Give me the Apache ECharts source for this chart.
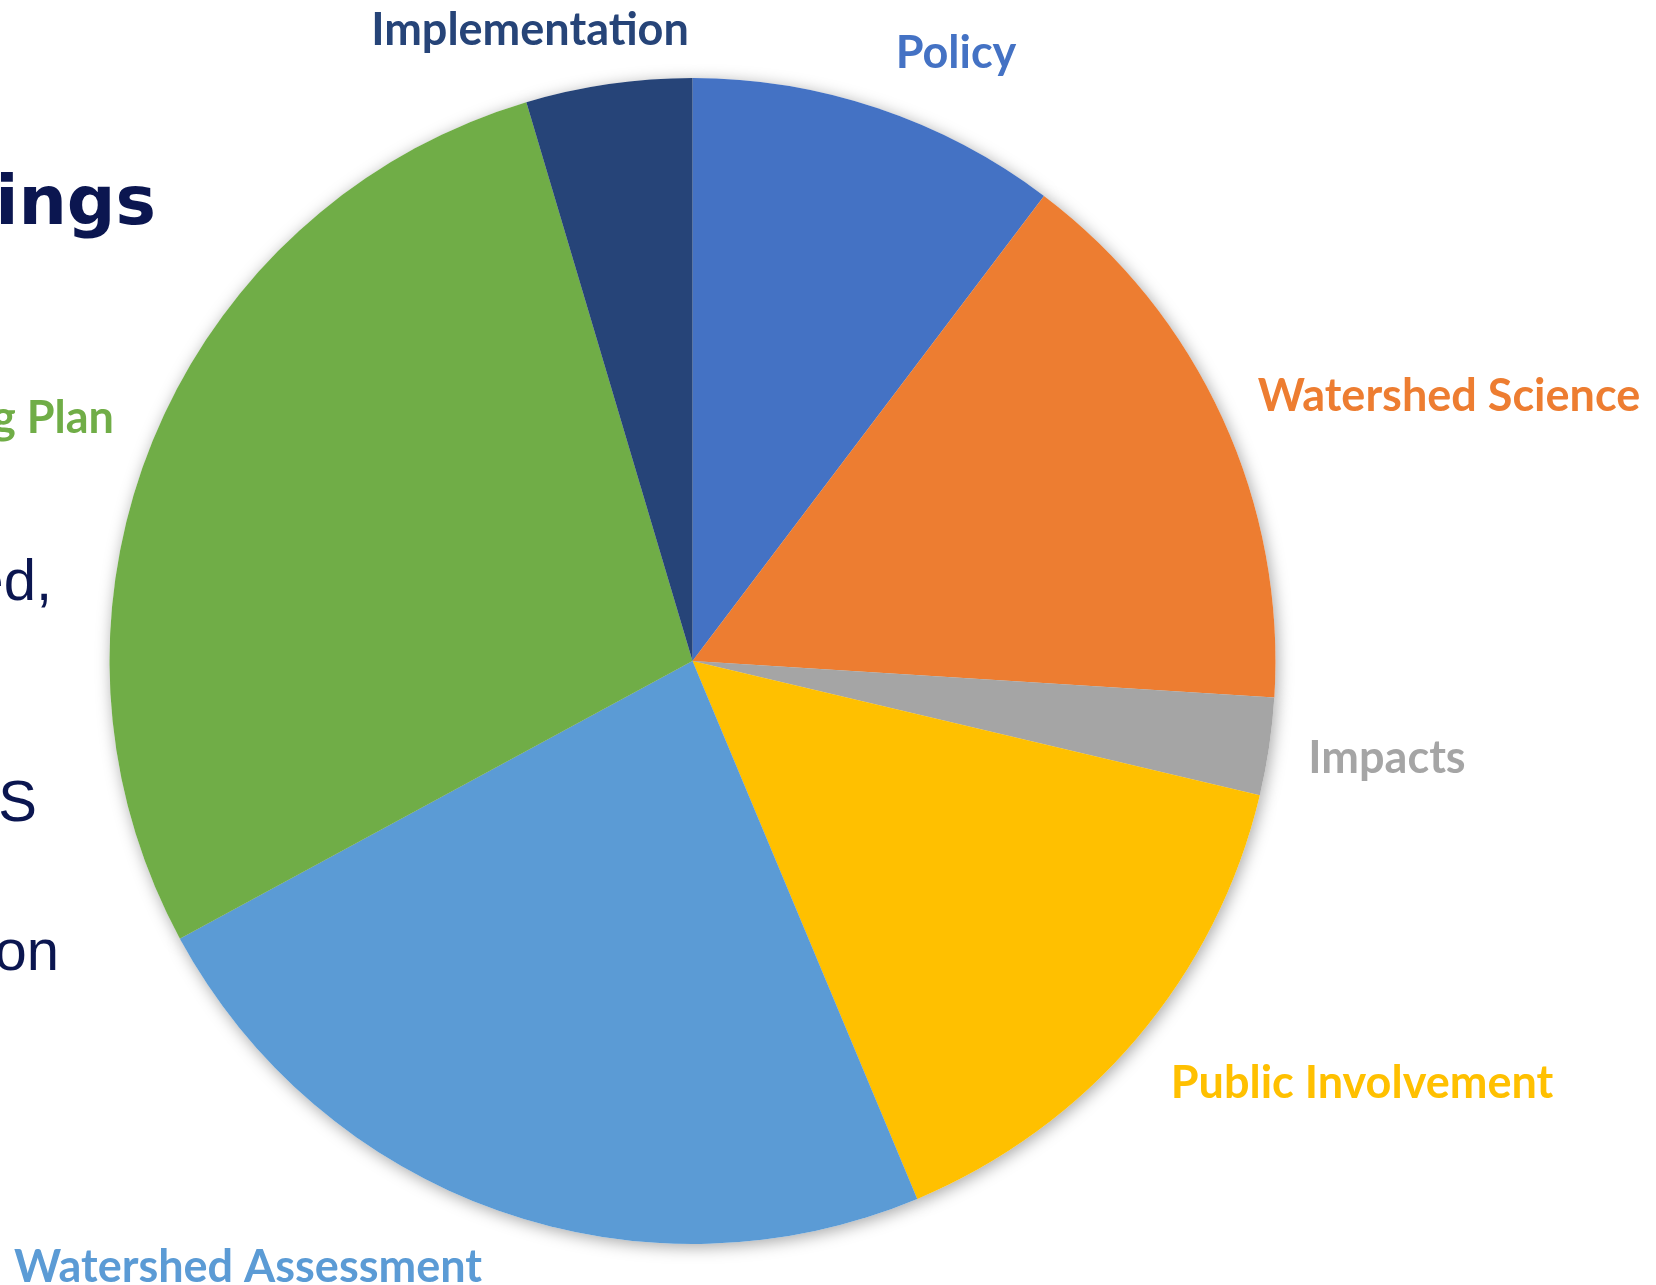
<!DOCTYPE html>
<html lang="en">
<head>
    <meta charset="UTF-8">
    <title>Topics</title>
    <script src="https://cdn.jsdelivr.net/npm/echarts@6/dist/echarts.min.js"></script>
    <style>
        html, body { margin: 0; padding: 0; background: #fff; }
    </style>
</head>
<body>
<div id="main" style="width: 1656px; height: 1285px"></div>
<script type="text/javascript">
    // slices, clockwise from 12 o'clock (share of total, %)
    var topics = ['Policy', 'Watershed Science', 'Impacts', 'Public Involvement',
        'Watershed Assessment', 'Monitoring Plan', 'Implementation'];
    var shares = [10.3, 15.7, 2.7, 15.0, 23.4, 28.3, 4.6];
    var colors = ['#4472C4', '#ED7D31', '#A5A5A5', '#FFC000', '#5B9BD5', '#70AD47', '#264478'];

    // where each label sits on the slide [x, y, align]
    var labelPos = {
        'Policy': [956, 53, 'center'],
        'Watershed Science': [1449, 396, 'center'],
        'Impacts': [1387, 758, 'center'],
        'Public Involvement': [1362, 1083, 'center'],
        'Watershed Assessment': [248, 1267, 'center'],
        'Monitoring Plan': [114, 418, 'right'],
        'Implementation': [530, 30, 'center']
    };

    var pieData = topics.map(function (name, i) {
        return { name: name, value: shares[i], itemStyle: { color: colors[i] } };
    });

    var myChart = echarts.init(document.getElementById('main'));
    var navy = '#0b1650';

    option = {
        animation: false,
        backgroundColor: '#ffffff',
        // bits of the slide text that the chart covers
        graphic: [
            { type: 'text', x: 156, y: 206, style: { text: 'ings', font: 'bold 68px "DejaVu Sans"', fill: navy, align: 'right', verticalAlign: 'middle' } },
            { type: 'text', x: 52, y: 584, style: { text: 'ed,', font: '58px "Liberation Sans"', fill: navy, align: 'right', verticalAlign: 'middle' } },
            { type: 'text', x: 37, y: 805, style: { text: 'cS', font: '58px "Liberation Sans"', fill: navy, align: 'right', verticalAlign: 'middle' } },
            { type: 'text', x: 59, y: 954, style: { text: 'on', font: '58px "Liberation Sans"', fill: navy, align: 'right', verticalAlign: 'middle' } }
        ],
        series: [
            {
                // soft shadow under the pie
                type: 'pie',
                silent: true,
                center: [692.5, 661],
                radius: 583,
                startAngle: 90,
                label: { show: false },
                labelLine: { show: false },
                itemStyle: {
                    color: '#ffffff',
                    shadowBlur: 16,
                    shadowColor: 'rgba(0,0,0,0.35)',
                    shadowOffsetX: 2,
                    shadowOffsetY: 3
                },
                data: shares.map(function (v) { return { value: v }; })
            },
            {
                name: 'Topics',
                type: 'pie',
                center: [692.5, 661],
                radius: 583,
                startAngle: 90,
                avoidLabelOverlap: false,
                itemStyle: { borderWidth: 0 },
                label: {
                    show: true,
                    formatter: '{b}',
                    color: 'inherit',
                    fontFamily: 'Lato',
                    fontWeight: 'bold',
                    fontSize: 45
                },
                labelLine: { show: false },
                labelLayout: function (params) {
                    var p = labelPos[topics[params.dataIndex]];
                    return { x: p[0], y: p[1], align: p[2], verticalAlign: 'middle' };
                },
                data: pieData
            }
        ]
    };

    myChart.setOption(option);
</script>
</body>
</html>
